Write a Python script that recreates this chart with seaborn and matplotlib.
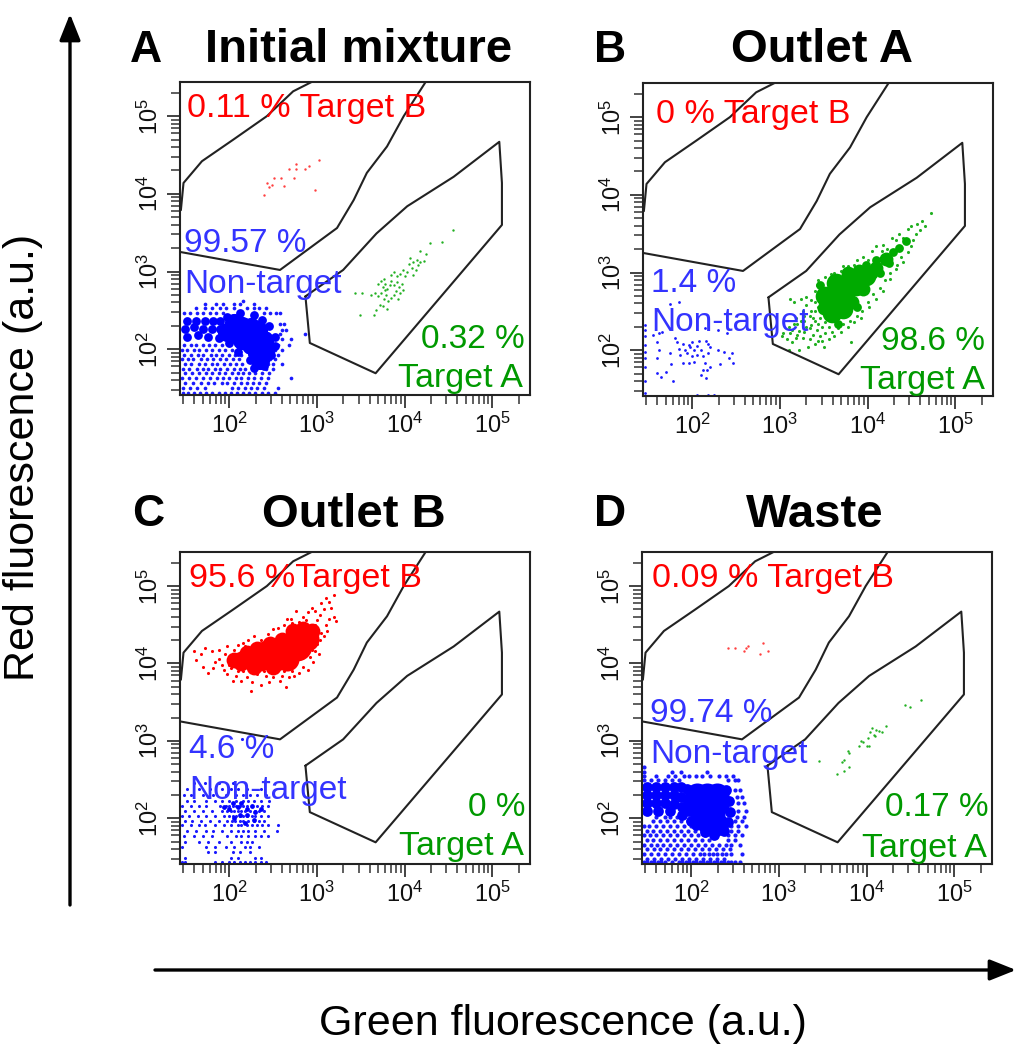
import numpy as np
import matplotlib
matplotlib.use("Agg")
import matplotlib.pyplot as plt
from matplotlib.patches import FancyArrowPatch
from matplotlib.ticker import LogLocator, NullFormatter, FixedLocator, FixedFormatter
import seaborn as sns

sns.set_theme(style="white")
plt.rcParams['font.family'] = ['Liberation Sans', 'DejaVu Sans']
plt.rcParams['mathtext.fontset'] = 'custom'
plt.rcParams['mathtext.rm'] = 'Liberation Sans'
plt.rcParams['mathtext.default'] = 'rm'

W, H = 1020, 1050
RED, BLUE, GREEN = '#ff0000', '#3333ff', '#009900'
DOT_BLUE, DOT_GREEN, DOT_RED = '#1a1aff', '#22b022', '#ff4040'
CORE_BLUE, CORE_GREEN, CORE_RED = '#0000ff', '#00aa00', '#ff0000'

tick_decades = [2, 3, 4, 5]
tick_labels = ['$10^{2}$', '$10^{3}$', '$10^{4}$', '$10^{5}$']

# gates, log10(green), log10(red)
gate_b = [(1.45, 3.25), (2.58, 3.02), (3.23, 3.56), (3.42, 3.92), (3.57, 4.27), (3.80, 4.61),
          (3.99, 5.00), (4.24, 5.44)]
gate_b_left = [(2.94, 5.44), (2.73, 5.32), (2.43, 5.00), (2.05, 4.70), (1.69, 4.42), (1.48, 4.14), (1.45, 3.79)]
gate_a = [(2.87, 2.68), (2.92, 2.08), (3.67, 1.69), (5.11, 3.60), (5.11, 4.14), (5.08, 4.67),
          (4.56, 4.22), (4.03, 3.84), (3.68, 3.49), (3.30, 3.02), (2.87, 2.68)]

# A: sparse populations
a_red = [(2.40, 3.99), (2.43, 4.14), (2.46, 4.09), (2.49, 4.12), (2.51, 4.21), (2.59, 4.21), (2.63, 4.10),
         (2.68, 4.32), (2.74, 4.20), (2.76, 4.38), (2.76, 4.32), (2.87, 4.32), (2.91, 4.36), (3.02, 4.43), (2.98, 4.05)]
a_green = [(3.44, 2.72), (3.52, 2.72), (3.49, 2.44), (3.65, 2.44), (3.68, 2.50), (3.72, 2.57), (3.75, 2.55), (3.80, 2.52),
           (3.62, 2.70), (3.66, 2.72), (3.70, 2.68), (3.73, 2.72), (3.76, 2.64), (3.79, 2.70), (3.81, 2.62), (3.84, 2.66),
           (3.88, 2.70), (3.92, 2.64), (3.95, 2.72), (3.98, 2.76), (3.70, 2.84), (3.73, 2.88), (3.75, 2.80), (3.78, 2.84),
           (3.80, 2.78), (3.83, 2.82), (3.85, 2.88), (3.88, 2.82), (3.91, 2.86), (3.94, 2.80), (3.97, 2.84), (3.85, 2.95),
           (3.88, 3.00), (3.91, 2.94), (3.95, 2.97), (3.98, 3.02), (4.00, 2.94), (4.03, 3.00), (4.05, 3.10), (4.08, 3.04),
           (4.10, 2.96), (4.13, 3.02), (4.15, 3.08), (4.06, 3.17), (4.10, 3.12), (4.14, 3.15), (4.18, 3.12), (4.22, 3.14),
           (4.25, 3.22), (4.18, 3.26), (4.29, 3.37), (4.43, 3.38), (4.55, 3.54), (3.78, 2.76), (3.77, 2.90), (3.90, 2.75)]
a_blue_core = [(2.05, 2.28), (2.15, 2.30), (2.25, 2.28), (2.33, 2.25), (1.98, 2.22), (2.10, 2.18), (2.20, 2.18), (2.30, 2.15),
               (2.40, 2.12), (2.25, 2.06), (2.35, 2.04), (2.42, 2.02), (2.32, 1.95), (2.38, 1.92), (2.35, 1.86), (2.15, 2.12), (2.05, 2.34)]
a_blue_mid = [(1.52, 2.36), (1.62, 2.36), (1.72, 2.36), (1.82, 2.36), (1.90, 2.36), (1.50, 2.26), (1.60, 2.28), (1.70, 2.26), (1.80, 2.26), (1.90, 2.26),
              (1.52, 2.16), (1.64, 2.18), (1.76, 2.16), (1.88, 2.14), (2.00, 2.08), (2.12, 2.06), (2.46, 2.30), (2.52, 2.16), (2.52, 2.04), (2.48, 1.92),
              (2.24, 1.86), (2.28, 1.76), (2.40, 1.78), (2.10, 1.96), (2.38, 2.38), (1.98, 2.42), (2.12, 2.46), (2.28, 2.44)]
a_blue_rows = {
    2.62: [2.16], 2.58: [1.72, 1.85, 1.93, 2.05, 2.12, 2.28],
    2.53: [1.62, 1.72, 1.80, 1.90, 1.97, 2.05, 2.20, 2.28, 2.34, 2.42],
    2.47: [1.48, 1.55, 1.63, 1.70, 1.78, 1.85, 1.93, 2.40, 2.47, 2.53, 2.58],
    2.33: [2.58, 2.62], 2.25: [2.60, 2.65], 2.20: [2.87, 2.58], 2.13: [2.60, 2.71], 2.05: [1.48, 1.56, 1.62, 1.70, 1.77, 1.84, 1.92, 2.0, 2.08, 2.56, 2.68],
    1.99: [1.46, 1.52, 1.60, 1.66, 1.74, 1.80, 1.88, 1.95, 2.03, 2.10, 2.52, 2.60],
    1.93: [1.49, 1.56, 1.64, 1.70, 1.79, 1.85, 1.92, 2.00, 2.07, 2.14, 2.50, 2.56],
    1.87: [1.46, 1.53, 1.59, 1.68, 1.75, 1.82, 1.90, 1.97, 2.04, 2.11, 2.47, 2.52],
    1.81: [1.50, 1.57, 1.66, 1.72, 1.80, 1.86, 1.94, 2.01, 2.08, 2.15, 2.44, 2.50, 2.60],
    1.75: [1.47, 1.54, 1.63, 1.70, 1.76, 1.84, 1.90, 1.98, 2.05, 2.12, 2.18, 2.42, 2.50],
    1.69: [1.50, 1.58, 1.66, 1.74, 1.81, 1.88, 1.95, 2.03, 2.10, 2.16, 2.23, 2.30, 2.38, 2.45],
    1.63: [1.46, 1.54, 1.62, 1.70, 1.78, 1.86, 1.93, 2.00, 2.08, 2.14, 2.22, 2.28, 2.36, 2.44, 2.71],
    1.57: [1.50, 1.59, 1.68, 1.76, 1.83, 1.92, 1.98, 2.06, 2.14, 2.20, 2.27, 2.34, 2.42],
    1.50: [1.47, 1.55, 1.63, 1.72, 2.03, 2.10, 2.18, 2.25, 2.32, 2.40, 2.56],
    1.43: [1.47, 1.53, 1.60, 1.67, 1.74, 1.81, 1.88, 1.95, 2.02, 2.09, 2.16, 2.23, 2.30, 2.37, 2.44, 2.52]}

# B
b_green_big = [(3.60, 2.64), (3.70, 2.70), (3.72, 2.79)]
b_green_mid = [(3.87, 2.83), (3.64, 2.87), (3.98, 2.96), (3.72, 2.53), (3.60, 2.48), (3.80, 2.90), (3.52, 2.70)]
b_green_small = [(4.10, 3.06), (4.21, 3.17), (3.95, 2.79), (3.78, 3.00), (3.90, 3.02), (4.04, 3.00), (3.82, 2.62), (3.50, 2.54)]
b_green_tiny = [(4.29, 3.26), (4.36, 3.32), (4.44, 3.41), (4.14, 3.00), (4.25, 3.12), (4.10, 3.16), (3.98, 3.10), (3.46, 2.84), (3.88, 2.56), (3.66, 2.34)]
b_green_dots = [(4.72, 3.77), (4.62, 3.66), (4.66, 3.60), (4.56, 3.62), (4.60, 3.55), (4.52, 3.42), (4.50, 3.60), (4.46, 3.56), (4.36, 3.50),
                (4.28, 3.44), (4.18, 3.36), (4.10, 3.34), (4.05, 3.28), (3.95, 3.20), (3.88, 3.16), (3.78, 3.08), (3.70, 3.02), (3.62, 3.00),
                (3.52, 2.94), (3.44, 2.90), (3.42, 2.84), (3.40, 2.76), (3.48, 2.84), (3.24, 2.66), (3.12, 2.66), (3.16, 2.62), (3.30, 2.68),
                (3.30, 2.58), (3.36, 2.64), (3.26, 2.50), (3.40, 2.50), (3.34, 2.44), (3.18, 2.42), (3.10, 2.30), (3.04, 2.22), (3.02, 2.18),
                (3.08, 2.14), (3.14, 2.10), (3.18, 2.16), (3.12, 2.22), (3.22, 2.25), (3.26, 2.16), (3.32, 2.04), (3.22, 2.00), (3.10, 2.00),
                (3.36, 2.32), (3.42, 2.26), (3.46, 2.18), (3.52, 2.22), (3.60, 2.24), (3.56, 2.14), (3.44, 2.12), (3.40, 2.38), (3.30, 2.30),
                (3.48, 2.30), (3.66, 2.28), (3.72, 2.34), (3.80, 2.38), (3.88, 2.44), (3.94, 2.50), (4.00, 2.62), (4.06, 2.72), (4.14, 2.80),
                (4.20, 2.90), (4.26, 3.00), (4.34, 3.10), (4.38, 3.20), (3.81, 2.10), (3.50, 2.04), (3.28, 2.38), (3.20, 2.34), (3.38, 2.20),
                (3.46, 2.42), (3.52, 2.36), (3.44, 2.34), (3.38, 2.42), (3.36, 2.50), (3.44, 2.56), (3.40, 2.62), (3.28, 2.44), (3.24, 2.38), (3.16, 2.34),
                (3.14, 2.26), (3.20, 2.20), (3.28, 2.24), (3.34, 2.28), (3.34, 2.14), (3.40, 2.08), (3.48, 2.12), (3.56, 2.30), (3.62, 2.18), (3.70, 2.24),
                (3.78, 2.30), (3.84, 2.36), (3.92, 2.42), (4.02, 2.56), (4.10, 2.66), (4.18, 2.76), (4.26, 2.92), (4.32, 3.04), (4.40, 3.14), (4.46, 3.26),
                (4.50, 3.34), (4.32, 3.42), (4.22, 3.30), (4.16, 3.28), (4.00, 3.16), (3.84, 3.10), (3.72, 3.08), (3.58, 2.98), (4.40, 3.44), (4.55, 3.50)]
b_blue = [(1.46, 1.45), (1.46, 1.60), (1.46, 1.78), (1.46, 1.90), (1.46, 1.98), (1.46, 2.07), (1.46, 2.18), (1.46, 2.26), (1.46, 2.32),
          (1.55, 2.20), (1.62, 2.22), (1.66, 2.24), (1.75, 2.60), (1.85, 2.62), (2.15, 2.28), (2.40, 2.22), (2.30, 2.26),
          (1.60, 2.10), (1.62, 2.00), (1.60, 1.90), (1.75, 1.97), (1.76, 1.82), (1.80, 2.16), (1.83, 2.10), (1.85, 2.02),
          (1.90, 2.08), (1.92, 2.00), (1.94, 1.96), (1.96, 2.07), (1.98, 2.04), (2.00, 2.10), (2.02, 2.00), (2.00, 1.92),
          (2.05, 1.94), (2.06, 2.05), (2.08, 2.12), (2.10, 2.00), (1.86, 1.94), (1.90, 1.84), (1.96, 1.84), (2.02, 1.85),
          (2.12, 1.92), (2.16, 2.12), (2.18, 2.08), (2.20, 2.04), (2.18, 1.96), (2.15, 1.84), (2.20, 1.78), (2.17, 1.75),
          (2.16, 1.64), (2.12, 1.75), (2.30, 2.00), (2.36, 1.98), (2.42, 1.90), (2.45, 1.96), (2.47, 1.84), (2.32, 1.82),
          (1.70, 1.72), (1.65, 1.66), (1.60, 1.70), (1.78, 1.60), (2.10, 1.68), (2.05, 1.42), (2.18, 1.42), (2.25, 1.42)]

# C
c_red_big = [(2.77, 4.23), (2.62, 4.17)]
c_red_mid = [(2.45, 4.10), (2.89, 4.32), (2.66, 4.06), (2.54, 4.06), (2.36, 4.12)]
c_red_small = [(2.26, 4.08), (2.13, 4.06), (2.32, 4.19), (2.94, 4.42), (2.47, 4.25), (2.73, 4.42), (2.84, 4.44), (2.36, 4.00), (2.50, 3.96), (2.60, 4.30),
               (2.20, 4.14), (2.05, 4.04), (2.28, 3.96), (2.42, 4.20), (2.14, 4.00)]
c_red_dots = [(3.20, 4.89), (3.10, 4.85), (3.14, 4.80), (3.05, 4.78), (3.08, 4.70), (3.16, 4.72), (3.20, 4.60), (3.22, 4.55), (3.14, 4.58), (3.10, 4.50),
              (3.04, 4.62), (2.98, 4.68), (2.94, 4.72), (2.90, 4.66), (3.00, 4.56), (2.84, 4.60), (2.76, 4.68), (2.66, 4.58), (2.62, 4.50), (2.72, 4.52),
              (2.80, 4.54), (2.88, 4.56), (2.56, 4.46), (2.50, 4.44), (2.44, 4.38), (2.36, 4.30), (2.28, 4.36), (2.22, 4.30), (2.16, 4.26), (2.10, 4.24),
              (1.98, 4.22), (1.88, 4.18), (1.80, 4.16), (1.72, 4.20), (1.68, 4.12), (1.62, 4.04), (1.70, 3.96), (1.76, 3.88), (1.82, 3.94), (1.88, 4.06),
              (1.94, 3.92), (1.98, 3.86), (1.92, 3.98), (2.04, 3.78), (2.08, 3.84), (2.14, 3.78), (2.20, 3.82), (2.26, 3.76), (2.36, 3.72), (2.32, 3.86),
              (2.42, 3.84), (2.50, 3.82), (2.60, 3.84), (2.68, 3.82), (2.74, 3.84), (2.80, 3.88), (2.90, 3.92), (2.96, 4.02), (3.02, 4.12), (3.00, 4.25),
              (3.08, 4.36), (3.12, 4.42), (3.05, 4.40), (2.98, 4.50), (2.65, 3.70), (2.25, 3.65), (1.60, 4.16), (1.84, 4.02), (2.02, 3.94), (2.10, 3.90),
              (2.18, 4.22), (2.40, 4.24), (2.94, 4.18), (3.00, 4.34), (2.70, 4.58), (2.58, 3.78), (2.46, 3.76), (2.02, 4.08), (1.95, 4.12), (2.06, 4.18),
              (2.00, 3.98), (2.16, 3.90), (2.28, 3.90), (2.40, 3.90), (2.62, 3.90), (2.72, 3.90), (2.84, 3.96), (2.92, 4.08), (2.98, 4.16), (3.04, 4.30)]
c_blue_mid = [(2.00, 2.12), (2.10, 2.14), (2.20, 2.12), (2.12, 2.04), (2.20, 2.04), (2.06, 2.00), (2.26, 2.16), (2.30, 2.08), (2.18, 1.94),
              (2.28, 1.98), (2.36, 2.12), (2.14, 2.20), (2.04, 2.20), (1.94, 2.14)]
c_blue_rows = {
    3.03: [2.15], 2.45: [1.60, 1.72, 1.88, 2.04], 2.38: [1.52, 1.66, 1.78, 1.92, 2.02, 2.10, 2.20, 2.36],
    2.30: [1.48, 1.56, 1.70, 1.82, 1.96, 2.08, 2.16, 2.24, 2.32, 2.42],
    2.23: [1.52, 1.60, 1.74, 1.84, 1.92, 2.00, 2.08, 2.16, 2.22, 2.28, 2.36, 2.46],
    2.16: [1.46, 1.56, 1.66, 1.74, 1.90, 1.96, 2.00, 2.04, 2.08, 2.12, 2.16, 2.20, 2.26, 2.32, 2.38, 2.44],
    2.09: [1.50, 1.60, 1.70, 1.80, 1.92, 1.98, 2.02, 2.06, 2.10, 2.14, 2.18, 2.24, 2.30, 2.34, 2.40],
    2.03: [1.46, 1.54, 1.64, 1.74, 1.84, 1.94, 2.00, 2.04, 2.08, 2.12, 2.16, 2.20, 2.26, 2.30, 2.36, 2.44],
    1.97: [1.50, 1.58, 1.68, 1.78, 1.88, 1.98, 2.03, 2.07, 2.12, 2.16, 2.22, 2.28, 2.34, 2.40],
    1.91: [1.46, 1.56, 1.66, 1.72, 1.84, 1.94, 2.02, 2.10, 2.14, 2.20, 2.26, 2.32, 2.38, 2.44, 2.56],
    1.84: [1.52, 1.62, 1.74, 1.82, 1.92, 2.02, 2.10, 2.16, 2.22, 2.30, 2.40, 2.55],
    1.77: [1.48, 1.60, 1.70, 1.80, 1.98, 2.08, 2.14, 2.22, 2.30, 2.36, 2.44],
    1.70: [1.50, 1.66, 1.76, 1.88, 2.02, 2.14, 2.20, 2.26],
    1.63: [1.46, 1.74, 1.84, 1.96, 2.06, 2.18, 2.24, 2.34],
    1.56: [1.76, 1.84, 2.04, 2.12, 2.24],
    1.49: [1.50, 2.02, 2.10, 2.30, 2.36],
    1.43: [1.46, 1.50, 1.84, 1.92, 2.00, 2.06, 2.12, 2.18, 2.24, 2.30, 2.36, 2.42]}

# D
d_red = [(2.42, 4.20), (2.50, 4.20), (2.60, 4.16), (2.62, 4.20), (2.65, 4.22), (2.78, 4.12), (2.82, 4.27), (2.88, 4.16)]
d_green = [(3.46, 2.74), (3.66, 2.57), (3.74, 2.61), (3.80, 2.66), (3.74, 2.75), (3.72, 2.73), (3.80, 2.84), (3.79, 2.87), (3.91, 2.94),
           (3.94, 3.00), (3.96, 2.98), (4.01, 2.93), (4.03, 2.94), (4.02, 3.04), (4.04, 3.11), (4.06, 3.17), (4.08, 3.08), (4.11, 3.14),
           (4.14, 3.13), (4.18, 3.11), (4.10, 3.06), (4.22, 3.19), (4.44, 3.46), (4.49, 3.44), (4.62, 3.53)]
d_blue_core = [(2.07, 2.30), (2.18, 2.30), (2.29, 2.30), (2.07, 2.18), (2.18, 2.18), (2.29, 2.18), (2.12, 2.06), (2.25, 2.06), (2.18, 1.96), (2.28, 1.93)]
d_blue_mid = [(1.95, 2.38), (1.95, 2.25), (2.40, 2.36), (2.43, 2.22), (2.44, 2.08), (2.42, 1.95), (2.38, 1.84), (2.26, 1.78), (2.16, 1.82), (2.06, 1.92), (1.98, 2.10),
              (1.50, 2.40), (1.60, 2.40), (1.70, 2.40), (1.80, 2.40), (1.88, 2.40), (1.50, 2.30), (1.60, 2.30), (1.70, 2.30), (1.80, 2.30), (1.88, 2.28),
              (1.50, 2.20), (1.60, 2.20), (1.70, 2.20), (1.80, 2.18), (1.90, 2.14), (1.50, 2.10), (1.62, 2.10), (1.76, 2.10), (1.90, 2.04), (2.00, 1.96)]
d_blue_rows = {
    2.66: [1.46], 2.60: [1.46, 1.78, 1.88, 2.18], 2.55: [1.46, 1.60, 1.74, 1.82, 1.92, 1.98, 2.06, 2.12, 2.22, 2.32, 2.40, 2.48],
    2.50: [1.46, 1.54, 1.62, 1.70, 1.78, 1.86, 2.42, 2.50, 2.54],
    2.36: [2.50, 2.56], 2.28: [2.52, 2.58], 2.20: [2.54, 2.60], 2.10: [2.54, 2.62], 2.02: [1.60, 1.70, 1.76, 1.84, 2.52, 2.60],
    1.96: [1.56, 1.64, 1.72, 1.80, 1.88, 1.96, 2.04, 2.50, 2.58],
    1.90: [1.46, 1.52, 1.60, 1.68, 1.76, 1.84, 1.92, 2.00, 2.07, 2.46, 2.54, 2.62],
    1.84: [1.50, 1.56, 1.64, 1.72, 1.80, 1.88, 1.96, 2.04, 2.12, 2.46, 2.54],
    1.78: [1.46, 1.53, 1.60, 1.68, 1.76, 1.84, 1.92, 2.00, 2.08, 2.16, 2.42, 2.50, 2.58],
    1.72: [1.50, 1.57, 1.64, 1.72, 1.80, 1.88, 1.96, 2.04, 2.12, 2.20, 2.42, 2.50],
    1.66: [1.46, 1.54, 1.61, 1.68, 1.76, 1.84, 1.92, 2.00, 2.08, 2.16, 2.24, 2.32, 2.40, 2.46, 2.56],
    1.60: [1.50, 1.58, 1.65, 1.72, 1.80, 1.88, 1.96, 2.04, 2.12, 2.20, 2.28, 2.36, 2.44],
    1.54: [1.46, 1.54, 1.62, 1.70, 1.78, 1.86, 1.94, 2.02, 2.10, 2.15, 2.20, 2.25, 2.30, 2.35, 2.40, 2.46, 2.58],
    1.48: [1.50, 1.58, 1.66, 1.74, 1.82, 1.90, 1.98, 2.06, 2.14, 2.22, 2.30, 2.38],
    1.43: [1.46, 1.50, 1.54, 1.58, 1.62, 1.66, 1.70, 1.78, 1.86, 1.90, 1.94, 1.98, 2.02, 2.06, 2.10, 2.14, 2.18, 2.22, 2.26, 2.30, 2.34, 2.38, 2.42, 2.46, 2.50, 2.56]}

panel_letters = ['A', 'B', 'C', 'D']
panel_titles = ['Initial mixture', 'Outlet A', 'Outlet B', 'Waste']
target_b_labels = ['0.11 % Target B', '0 % Target B', '95.6 %Target B', '0.09 % Target B']
nontarget_pct = ['99.57 %', '1.4 %', '4.6 %', '99.74 %']
target_a_pct = ['0.32 %', '98.6 %', '0 %', '0.17 %']

# layout in reference pixels
boxes = [(180, 82, 530, 395), (643, 83, 993, 396), (180, 552, 530, 864), (642, 552, 992, 864)]
letter_pos = [(130, 50), (594, 50), (132, 515), (594, 515)]
title_pos = [(359, 50), (822, 50), (354, 515), (815, 515)]
tb_pos = [(187, 108), (656, 114), (189, 579), (652, 579)]
np_pos = [(184, 244), (651, 283), (189, 750), (650, 713)]
nt_pos = [(184, 284), (651, 322), (189, 790), (650, 755)]
ap_pos = [(421, 339), (881, 341), (468, 807), (885, 807)]
ta_pos = [(398, 379), (860, 381), (399, 847), (862, 848)]


def rows_to_pts(rows):
    return [(x, y) for y, xs in rows.items() for x in xs]


def draw(ax, pts, color, size):
    a = np.array(pts)
    sns.scatterplot(x=10 ** a[:, 0], y=10 ** a[:, 1], color=color, s=size, linewidth=0, ax=ax, legend=False, zorder=2)


fig = plt.figure(figsize=(W / 100, H / 100), dpi=100)


def ftext(x, y, s, **kw):
    fig.text(x / W, 1 - y / H, s, va='center', **kw)


layers = [
    [(rows_to_pts(a_blue_rows), DOT_BLUE, 7), (a_blue_mid, CORE_BLUE, 40), (a_blue_core, CORE_BLUE, 190),
     (a_red, DOT_RED, 3), (a_green, DOT_GREEN, 3)],
    [(b_blue, DOT_BLUE, 4), (b_green_dots, DOT_GREEN, 5), (b_green_tiny, CORE_GREEN, 40), (b_green_small, CORE_GREEN, 100),
     (b_green_mid, CORE_GREEN, 200), (b_green_big, CORE_GREEN, 350)],
    [(rows_to_pts(c_blue_rows), DOT_BLUE, 5), (c_blue_mid, CORE_BLUE, 12), (c_red_dots, CORE_RED, 5), (c_red_small, CORE_RED, 130),
     (c_red_mid, CORE_RED, 300), (c_red_big, CORE_RED, 460)],
    [(rows_to_pts(d_blue_rows), DOT_BLUE, 9), (d_blue_mid, CORE_BLUE, 60), (d_blue_core, CORE_BLUE, 300), (d_red, DOT_RED, 3),
     (d_green, DOT_GREEN, 3)],
]

for i, (x0, y0, x1, y1) in enumerate(boxes):
    ax = fig.add_axes([x0 / W, 1 - y1 / H, (x1 - x0) / W, (y1 - y0) / H])
    ax.set_xscale('log')
    ax.set_yscale('log')
    for pts, col, size in layers[i]:
        draw(ax, pts, col, size)
    for g in (gate_b, gate_b_left, gate_a):
        a = np.array(g)
        sns.lineplot(x=10 ** a[:, 0], y=10 ** a[:, 1], sort=False, estimator=None, color='#222222', lw=1.5, ax=ax, zorder=3, legend=False)
    ax.set_xlim(10 ** 1.44, 10 ** 5.43)
    ax.set_ylim(10 ** 1.41, 10 ** 5.44)
    ticks = [10 ** d for d in tick_decades]
    for axis in (ax.xaxis, ax.yaxis):
        axis.set_major_locator(FixedLocator(ticks))
        axis.set_major_formatter(FixedFormatter(tick_labels))
        axis.set_minor_locator(LogLocator(base=10, subs=range(2, 10), numticks=12))
        axis.set_minor_formatter(NullFormatter())
    ax.tick_params(which='major', length=9.5, width=1.2, color='#222222', labelsize=17, labelcolor='#111111', pad=3, left=True, bottom=True)
    ax.tick_params(which='minor', length=6.5, width=1.1, color='#333333', left=True, bottom=True)
    ax.tick_params(axis='y', labelrotation=90)
    for lab in ax.get_yticklabels():
        lab.set_va('center')
    for sp in ax.spines.values():
        sp.set_visible(True)
        sp.set_color('#222222')
        sp.set_linewidth(1.5)
    ax.set_xlabel('')
    ax.set_ylabel('')

    ftext(*letter_pos[i], panel_letters[i], fontsize=32, fontweight='bold', color='black', ha='left')
    ftext(*title_pos[i], panel_titles[i], fontsize=34, fontweight='bold', color='black', ha='center')
    ftext(*tb_pos[i], target_b_labels[i], fontsize=24.5, color=RED, ha='left')
    ftext(*np_pos[i], nontarget_pct[i], fontsize=24, color=BLUE, ha='left')
    ftext(*nt_pos[i], 'Non-target', fontsize=24, color=BLUE, ha='left')
    ftext(*ap_pos[i], target_a_pct[i], fontsize=24, color=GREEN, ha='left')
    ftext(*ta_pos[i], 'Target A', fontsize=24.5, color=GREEN, ha='left')

arrow = dict(arrowstyle='-|>,head_length=1.0,head_width=0.4', lw=2.4, color='black', mutation_scale=16, shrinkA=0, shrinkB=0)
fig.add_artist(FancyArrowPatch((70 / W, 1 - 905 / H), (70 / W, 1 - 14 / H), transform=fig.transFigure, **arrow))
fig.add_artist(FancyArrowPatch((155 / W, 1 - 970 / H), (1016 / W, 1 - 970 / H), transform=fig.transFigure, **arrow))
fig.text(23 / W, 1 - 457 / H, 'Red fluorescence (a.u.)', rotation=90, fontsize=31, color='black', ha='center', va='center')
fig.text(563 / W, 1 - 1024 / H, 'Green fluorescence (a.u.)', fontsize=31, color='black', ha='center', va='center')

fig.savefig('out.png', dpi=100, facecolor='white')
